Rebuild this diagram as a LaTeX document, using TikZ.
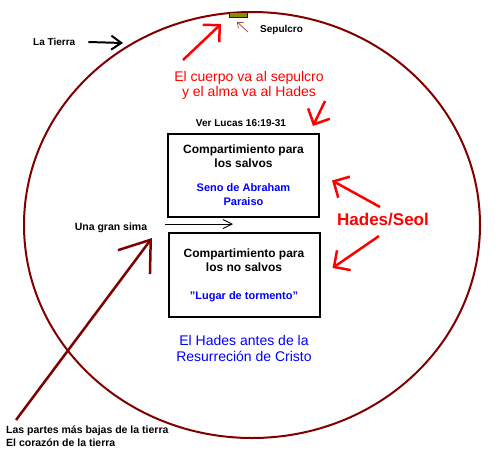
\documentclass[tikz,border=0pt]{standalone}
\usepackage{fontspec}
\setmainfont{Liberation Sans}
\usetikzlibrary{arrows.meta, positioning}
\definecolor{tierra}{HTML}{800000}
\definecolor{rojo}{HTML}{FF0000}
\definecolor{azul}{HTML}{0000FF}
\definecolor{oliva}{HTML}{8C8C00}
\definecolor{pardo}{HTML}{A04040}
\newcommand{\azulito}{\fontsize{11}{13}\selectfont\color{azul}}

\begin{document}
\begin{tikzpicture}[x=1pt, y=-1pt,
  lbl/.style={font=\fontsize{10.5}{13}\selectfont\bfseries, inner sep=0pt},
  comp/.style={rectangle, draw=black, line width=2pt, align=center, minimum width=151pt, inner sep=0pt, font=\fontsize{12}{14}\selectfont\bfseries},
  rojoflecha/.style={draw=rojo, line width=2.5pt, -{Straight Barb[length=12pt, width=24pt]}},
  negraflecha/.style={draw=black, line width=2pt, -{Straight Barb[length=10pt, width=14pt]}}]
  \useasboundingbox (0,0) rectangle (503,467);

  % la tierra
  \draw[tierra, line width=2pt] (252,225) ellipse [x radius=228, y radius=213];

  \node[rectangle, draw=tierra!70!black, fill=oliva, line width=0.8pt, minimum width=18pt, minimum height=5pt, inner sep=0pt] (sepulcro) at (238,15) {};
  \node[lbl, anchor=west, font=\fontsize{10}{12}\selectfont\bfseries] (sep) at (260,30) {Sepulcro};
  \node[lbl, anchor=west, font=\fontsize{10}{12}\selectfont\bfseries] (tierra) at (33,42) {La Tierra};

  \node[align=center, text=rojo, inner sep=0pt, font=\fontsize{14}{15}\selectfont] (cuerpo) at (249,85.5) {El cuerpo va al sepulcro\\y el alma va al Hades};
  \node[lbl, font=\fontsize{10}{12}\selectfont\bfseries] (lucas) at (241,123) {Ver Lucas 16:19-31};

  \node[comp, minimum height=83pt] (salvos) at (243.5,175.5) {Compartimiento para\\los salvos\\[10pt]
    \azulito Seno de Abraham\\\azulito Paraiso};
  \node[comp, minimum height=84pt] (nosalvos) at (244,275) {Compartimiento para\\los no salvos\\[14pt]
    \azulito "Lugar de tormento"};

  \node[inner sep=0pt, text=rojo, font=\fontsize{17}{20}\selectfont\bfseries] (hades) at (383,220) {Hades/Seol};
  \node[align=center, text=azul, inner sep=0pt, font=\fontsize{14}{16}\selectfont] (antes) at (244,348) {El Hades antes de la\\Resurreci\'on de Cristo};

  \node[lbl] (sima) at (111,228) {Una gran sima};
  \node[lbl, anchor=north west, align=left] (partes) at (6,426) {Las partes m\'as bajas de la tierra\\El coraz\'on de la tierra};

  % flechas
  \coordinate (c1) at (183,60);
  \coordinate (c2) at (221,24);
  \coordinate (d1) at (325,101);
  \coordinate (d2) at (313,126);
  \coordinate (h1) at (380,207);
  \coordinate (h2) at (379,236);
  \coordinate (g1) at (165,224);
  \coordinate (g2) at (233,224);
  \coordinate (p1) at (16,420);
  \coordinate (p2) at (152,238);
  \coordinate (borde) at (123,43);

  \draw[negraflecha] ([xshift=13]tierra.east) -- (borde);
  \draw[pardo, line width=0.7pt, -{Straight Barb[length=5pt, width=8pt]}] ([xshift=-12,yshift=-2]sep.west) -- ([xshift=-1,yshift=-4]sepulcro.south);
  \draw[rojoflecha] (c1) -- (c2);
  \draw[rojoflecha] (d1) -- (d2);
  \draw[rojoflecha] (h1) -- ([xshift=12,yshift=-5]salvos.east);
  \draw[rojoflecha] (h2) -- ([xshift=12,yshift=7]nosalvos.east);
  \draw[black, line width=0.9pt, -{Straight Barb[length=9pt, width=9pt]}] (g1) -- (g2);
  \draw[tierra, line width=2.5pt, -{Straight Barb[length=28pt, width=40pt]}] (p1) -- (p2);
\end{tikzpicture}
\end{document}
